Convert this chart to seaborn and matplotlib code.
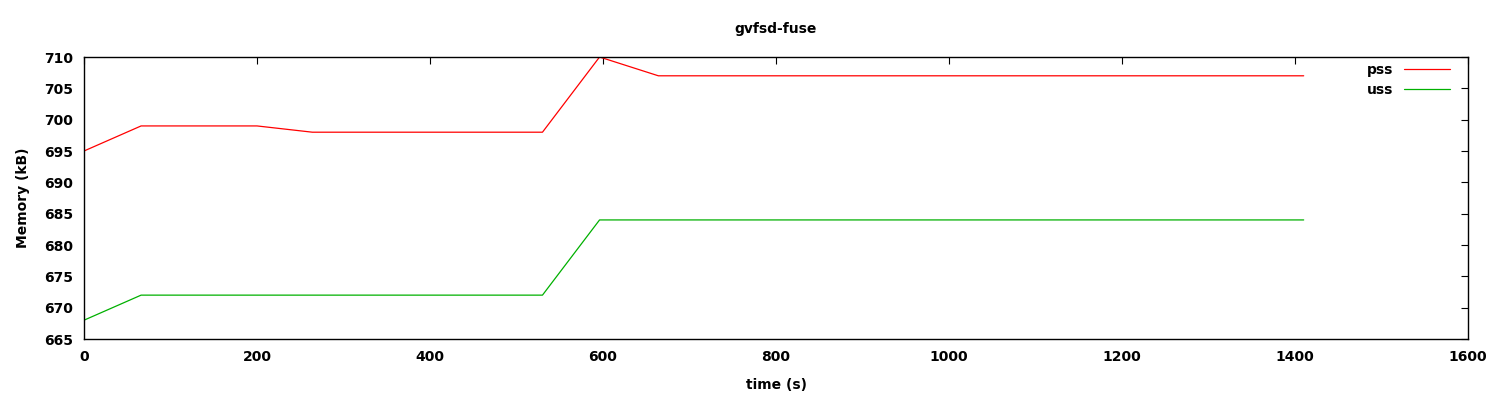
import numpy as np
import pandas as pd
import matplotlib
matplotlib.use("Agg")
import matplotlib.pyplot as plt
import seaborn as sns

# vertices (time in s, memory in kB)
time_pss = [0, 66, 200, 264, 530, 596, 664, 1410]
pss = [695, 699, 699, 698, 698, 710, 707, 707]
time_uss = [0, 66, 530, 596, 1410]
uss = [668, 672, 672, 684, 684]

df = pd.concat([
    pd.DataFrame({"time": time_pss, "mem": pss, "kind": "pss"}),
    pd.DataFrame({"time": time_uss, "mem": uss, "kind": "uss"}),
])

sns.set_style("white")
plt.rcParams['font.family'] = ['DejaVu Sans']
plt.rcParams['text.color'] = 'black'
plt.rcParams['axes.labelcolor'] = 'black'

fig = plt.figure(figsize=(15, 4), dpi=100)
ax = fig.add_axes([0.056, 0.1525, 0.9227, 0.705])

sns.lineplot(data=df, x="time", y="mem", hue="kind", sort=False,
             palette={"pss": "#ff0000", "uss": "#00b000"},
             linewidth=0.9, ax=ax)

ax.set_xlim(0, 1600)
ax.set_ylim(665, 710)
ax.set_xticks(np.arange(0, 1601, 200))
ax.set_yticks(np.arange(665, 711, 5))
ax.tick_params(direction="in", length=5, width=0.8, top=True, right=True,
               labelsize=10, pad=8, colors="black")
for lbl in ax.get_xticklabels() + ax.get_yticklabels():
    lbl.set_fontweight("bold")
for s in ax.spines.values():
    s.set_color("black")
    s.set_linewidth(1)

ax.set_xlabel("time (s)", fontsize=10, fontweight="bold", labelpad=10)
ax.set_ylabel("Memory (kB)", fontsize=10, fontweight="bold", labelpad=10)
ax.set_title("gvfsd-fuse", fontsize=10, fontweight="bold", pad=17)

leg = ax.legend(loc="upper right", frameon=False, markerfirst=False,
                handlelength=3.3, fontsize=10, borderaxespad=0, borderpad=0,
                labelspacing=0.45, bbox_to_anchor=(0.987, 0.98))
for t in leg.get_texts():
    t.set_fontweight("bold")

fig.savefig("out.png", dpi=100)
